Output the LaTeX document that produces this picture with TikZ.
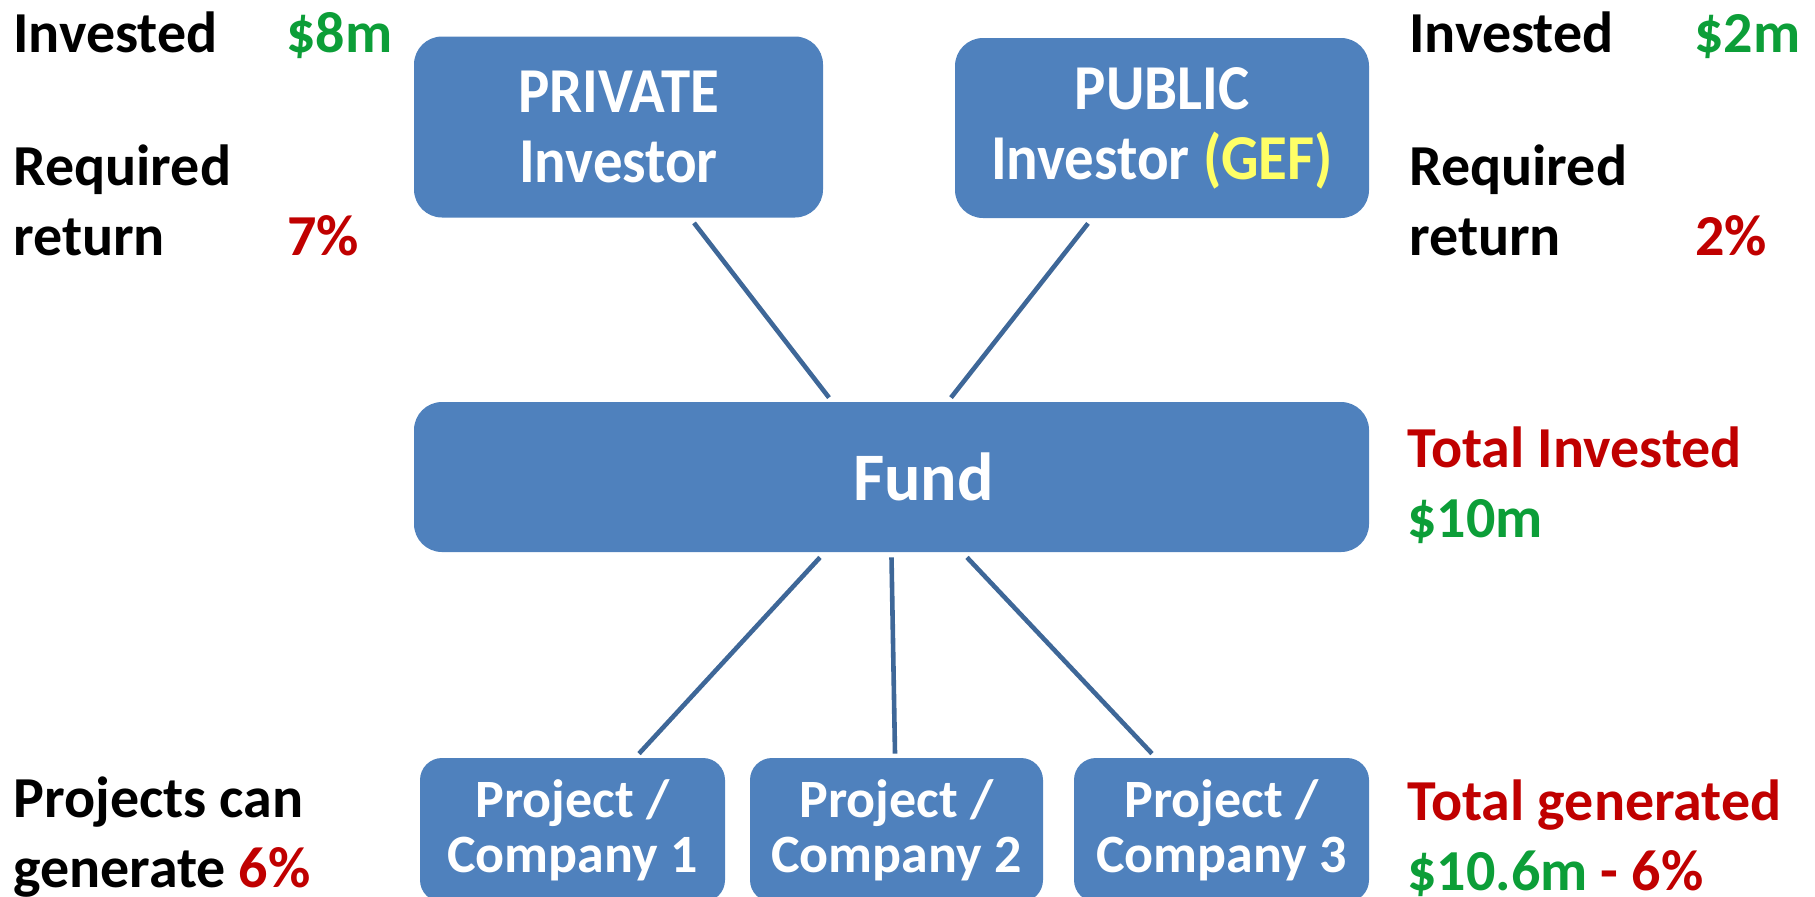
\documentclass[tikz,border=0pt]{standalone}
\usepackage{fontspec}
\setmainfont{Carlito}
\newfontfamily\narrowfamily[FakeStretch=0.92]{Carlito}
\usetikzlibrary{calc}

\definecolor{boxblue}{RGB}{79,129,189}
\definecolor{linkblue}{RGB}{62,103,152}
\definecolor{money}{RGB}{12,158,56}
\definecolor{rate}{RGB}{192,0,0}
\definecolor{gef}{RGB}{255,255,102}

\newcommand{\notefont}{\fontsize{29}{35}\selectfont\bfseries}
\newcommand{\boxfont}{\narrowfamily\fontsize{32}{35}\selectfont\bfseries}
\newcommand{\projfont}{\fontsize{27}{27.5}\selectfont\bfseries}

\begin{document}
\begin{tikzpicture}[x=0.5pt, y=-0.5pt,
    box/.style={fill=boxblue, rounded corners=14pt, text=white, align=center, inner sep=0pt},
    link/.style={draw=linkblue, line width=2.3pt},
    note/.style={anchor=base west, align=left, inner sep=0pt, font=\notefont}]
  \useasboundingbox (0,0) rectangle (1815,896);
  \clip (0,0) rectangle (1815,896);

  % investors, fund and projects
  \node[box, minimum width=204.5pt, minimum height=90.5pt, font=\boxfont] (priv) at (618.5,127) {PRIVATE\\Investor};
  \node[box, minimum width=207pt, minimum height=90pt, font=\boxfont] (publ) at (1162,128) {PUBLIC\\Investor \textcolor{gef}{(GEF)}};
  \node[box, minimum width=477.5pt, minimum height=75pt, font=\fontsize{34}{40}\selectfont\bfseries] (fund) at (891.5,477) {\hspace*{32pt}Fund};
  \node[box, rounded corners=11pt, minimum width=152.5pt, minimum height=72pt, font=\projfont] (proj1) at (572.5,830) {Project /\\Company 1};
  \node[box, rounded corners=11pt, minimum width=146.5pt, minimum height=72pt, font=\projfont] (proj2) at (896.5,830) {Project /\\Company 2};
  \node[box, rounded corners=11pt, minimum width=147.5pt, minimum height=72pt, font=\projfont] (proj3) at (1221.5,830) {Project /\\Company 3};

  % links
  \draw[link] ($(priv.south)+(75.5,5)$) -- ($(fund.north)+(-62.5,-4)$);
  \draw[link] ($(publ.south)+(-74,5)$) -- ($(fund.north)+(59.5,-4)$);
  \draw[link] ($(fund.south)+(-71.5,5)$) -- ($(proj1.north)+(66.5,-4)$);
  \draw[link] ($(fund.south)+(0,5)$) -- ($(proj2.north)+(-1.5,-4)$);
  \draw[link] ($(fund.south)+(75.5,5)$) -- ($(proj3.north)+(-69.5,-4)$);

  % side notes (multi-line ones sit on their last baseline)
  \node[note] (invl) at (13,52) {Invested};
  \node[note, text=money] (invlv) at (286,52) {\$8m};
  \node[note] (reql) at (13,255) {Required\\return};
  \node[note, text=rate] (reqlv) at (287,255) {7\%};
  \node[note] (invr) at (1409,52) {Invested};
  \node[note, text=money] (invrv) at (1694,52) {\$2m};
  \node[note] (reqr) at (1409,255) {Required\\return};
  \node[note, text=rate] (reqrv) at (1695,255) {2\%};
  \node[note, text=rate] (total) at (1407,537) {Total Invested\\\textcolor{money}{\$10m}};
  \node[note] (gen) at (13,887) {Projects can\\generate \textcolor{rate}{6\%}};
  \node[note, text=rate] (totgen) at (1407,890) {Total generated\\\textcolor{money}{\$10.6m} - 6\%};
\end{tikzpicture}
\end{document}
